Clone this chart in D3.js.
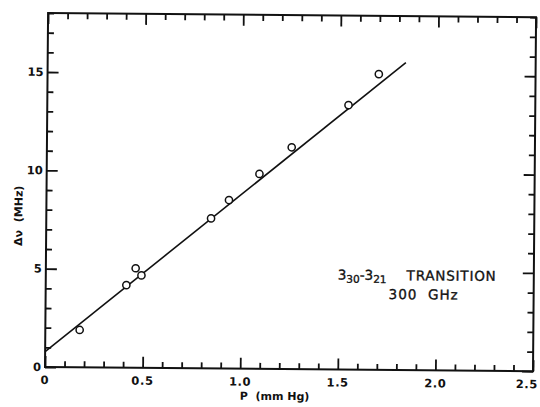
<!DOCTYPE html>
<html>
<head>
<meta charset="utf-8">
<script src="https://cdn.jsdelivr.net/npm/d3@7/dist/d3.min.js"></script>
<style>
  html, body { margin: 0; padding: 0; background: #fff; }
  svg { display: block; }
  text { font-family: "DejaVu Sans", sans-serif; fill: #111; }
</style>
</head>
<body>
<svg id="chart" width="540" height="407"></svg>
<script>
// Data
const pressure = [0.176, 0.413, 0.46, 0.49, 0.844, 0.935, 1.09, 1.254, 1.543, 1.697];
const linewidth = [1.90, 4.20, 5.06, 4.70, 7.63, 8.57, 9.91, 11.28, 13.45, 15.04];
const fitP = [0, 1.835];
const fitW = [0.78, 15.63];
const xTickLabels = ["0", "0.5", "1.0", "1.5", "2.0", "2.5"];
const xTickValues = [0, 0.5, 1.0, 1.5, 2.0, 2.5];
const yTickLabels = ["0", "5", "10", "15"];
const yTickValues = [0, 5, 10, 15];

const svg = d3.select("#chart");
const mLeft = 45, mBottom = 367, W = 488, H = 354;
const mTop = mBottom - H;

const x = d3.scaleLinear().domain([0, 2.5]).range([mLeft, mLeft + W]);
const y = d3.scaleLinear().domain([0, 18]).range([mBottom, mTop]);

const g = svg.append("g").attr("transform", `rotate(0.5, ${mLeft}, ${mBottom})`);

const ink = "#111";
const minorLen = 6, majorLen = 11;

function tickLen(v, step) {
  return Math.abs(v / step - Math.round(v / step)) < 1e-6 ? majorLen : minorLen;
}

// x ticks: bottom and top (inward)
const xMinor = d3.range(0, 26).map(i => i / 10);
const gxb = g.append("g").attr("transform", `translate(0,${mBottom})`)
  .call(d3.axisBottom(x).tickValues(xMinor).tickFormat("").tickSizeOuter(0));
gxb.selectAll(".tick line").attr("y2", d => -tickLen(d, 0.5));
const gxt = g.append("g").attr("transform", `translate(0,${mTop})`)
  .call(d3.axisTop(x).tickValues(xMinor).tickFormat("").tickSizeOuter(0));
gxt.selectAll(".tick line").attr("y2", d => tickLen(d, 0.5));

// y ticks: left and right (inward)
const yMinor = d3.range(0, 19);
const gyl = g.append("g").attr("transform", `translate(${mLeft},0)`)
  .call(d3.axisLeft(y).tickValues(yMinor).tickFormat("").tickSizeOuter(0));
gyl.selectAll(".tick line").attr("x2", d => tickLen(d, 5));
const gyr = g.append("g").attr("transform", `translate(${mLeft + W},0)`)
  .call(d3.axisRight(y).tickValues(yMinor).tickFormat("").tickSizeOuter(0));
gyr.selectAll(".tick line").attr("x2", d => -tickLen(d, 5));

g.selectAll(".domain").remove();
g.selectAll(".tick line").attr("stroke", ink).attr("stroke-width", 1.8);

// frame
g.append("rect").attr("x", mLeft).attr("y", mTop).attr("width", W).attr("height", H)
  .attr("fill", "none").attr("stroke", ink).attr("stroke-width", 2);

// tick labels
g.selectAll(".xl").data(xTickValues).enter().append("text")
  .attr("x", (d, i) => i === xTickValues.length - 1 ? 538 : x(d))
  .attr("y", mBottom + 17)
  .attr("text-anchor", (d, i) => i === xTickValues.length - 1 ? "end" : "middle")
  .attr("font-size", 11.5).attr("font-weight", "bold")
  .attr("letter-spacing", 0.6)
  .text((d, i) => xTickLabels[i]);
g.selectAll(".yl").data(yTickValues).enter().append("text")
  .attr("x", mLeft - 4).attr("y", d => y(d) + 4)
  .attr("text-anchor", "end").attr("font-size", 11.5).attr("font-weight", "bold")
  .text((d, i) => yTickLabels[i]);

// axis titles
g.append("text").attr("x", 240).attr("y", 398).attr("font-size", 11).attr("font-weight", "bold")
  .attr("xml:space", "preserve").text("P  (mm Hg)");
g.append("text").attr("transform", "translate(21,216) rotate(-90)")
  .attr("text-anchor", "middle").attr("font-size", 11).attr("font-weight", "bold")
  .attr("xml:space", "preserve").text("Δν  (MHz)");

// fit line
const line = d3.line().x(d => x(d[0])).y(d => y(d[1]));
g.append("path").datum(fitP.map((p, i) => [p, fitW[i]]))
  .attr("d", line).attr("fill", "none").attr("stroke", ink).attr("stroke-width", 1.6);

// data points
g.selectAll(".pt").data(pressure.map((p, i) => [p, linewidth[i]])).enter().append("circle")
  .attr("cx", d => x(d[0])).attr("cy", d => y(d[1])).attr("r", 3.6)
  .attr("fill", "#fff").attr("stroke", ink).attr("stroke-width", 1.5);

// annotation
const ann = g.append("text").attr("x", 337).attr("y", 277).attr("font-size", 13.5)
  .attr("stroke", "#111").attr("stroke-width", 0.35);
ann.append("tspan").text("3");
ann.append("tspan").attr("font-size", 10.5).attr("dy", 3).text("30");
ann.append("tspan").attr("dy", -3).text("-3");
ann.append("tspan").attr("font-size", 10.5).attr("dy", 3).text("21");
ann.append("tspan").attr("dy", -3).attr("dx", 20).attr("letter-spacing", 0.8).text("TRANSITION");
g.append("text").attr("x", 423).attr("y", 296).attr("text-anchor", "middle").attr("font-size", 13.5)
  .attr("letter-spacing", 1).attr("stroke", "#111").attr("stroke-width", 0.35)
  .attr("xml:space", "preserve").text("300  GHz");
</script>
</body>
</html>
